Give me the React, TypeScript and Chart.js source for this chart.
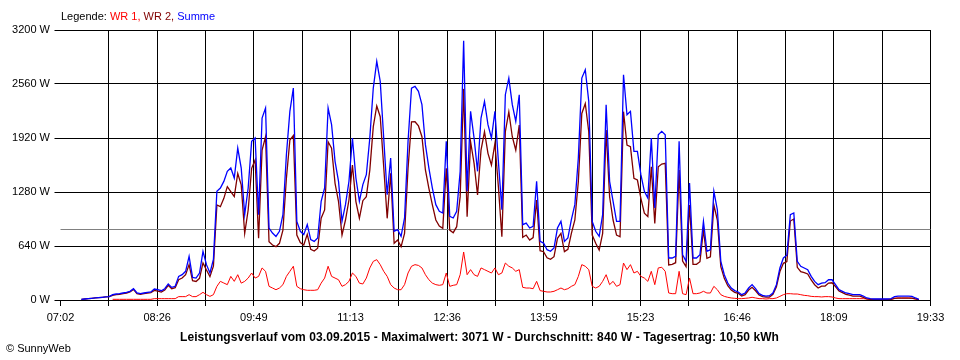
import { useEffect, useRef } from 'react';
import { Chart, registerables } from 'chart.js';

Chart.register(...registerables);

// Axis ticks
const xTickLabels = ['07:02', '08:26', '09:49', '11:13', '12:36', '13:59', '15:23', '16:46', '18:09', '19:33'];
const yTickValues = [0, 640, 1280, 1920, 2560, 3200];
const yTickLabels = ['0 W', '640 W', '1280 W', '1920 W', '2560 W', '3200 W'];
const xMinMinute = 7 * 60 + 2; // 07:02
const xMaxMinute = 19 * 60 + 33; // 19:33

// Samples start at 07:20, every 3 minutes
const startMinute = 7 * 60 + 20;
const intervalMinutes = 3;

const durchschnitt = 840; // W

// WR 1 (W)
const wr1: (number | null)[] = [
  null, null, null, null, null, null, null, null, null, 8,
  8, 8, 8, 8, 8, 8, 8, 8, 8, 8,
  8, 16, 16, 16, 16, 16, 16, 16, 40, 40,
  40, 63, 40, 40, 63, 91, 63, 43, 63, 162,
  221, 201, 182, 280, 221, 300, 200, 221, 260, 320,
  260, 280, 380, 340, 162, 142, 122, 142, 182, 280,
  340, 400, 162, 134, 122, 115, 115, 115, 122, 200,
  260, 400, 280, 260, 240, 162, 182, 221, 320, 280,
  200, 190, 260, 380, 458, 478, 419, 340, 280, 182,
  142, 122, 122, 182, 320, 400, 419, 410, 380, 300,
  240, 200, 182, 174, 182, 320, 162, 174, 182, 300,
  569, 300, 360, 300, 280, 380, 360, 340, 320, 380,
  300, 320, 438, 400, 380, 340, 360, 150, 142, 142,
  134, 221, 111, 103, 95, 95, 103, 122, 142, 122,
  134, 162, 182, 280, 419, 400, 360, 162, 142, 162,
  221, 300, 182, 221, 162, 182, 438, 360, 419, 320,
  340, 280, 260, 221, 340, 182, 380, 388, 340, 83,
  75, 75, 340, 75, 63, 260, 75, 75, 83, 103,
  83, 83, 162, 122, 63, 43, 32, 24, 20, 16,
  16, 20, 24, 32, 24, 16, 16, 12, 16, 16,
  24, 43, 63, 75, 75, 71, 71, 63, 55, 51,
  43, 40, 40, 36, 40, 40, 36, 24, 16, 16,
  16, 16, 16, 16, 16, 16, 12, 8, 4, 4,
  4, 4, 4, 8, 20, 24, 24, 24, 24, 20,
  12, 4,
];

// WR 2 (W)
const wr2: number[] = [
  8, 12, 16, 20, 24, 28, 32, 36, 40, 55,
  63, 67, 75, 83, 95, 126, 75, 67, 75, 83,
  87, 114, 106, 94, 118, 174, 134, 146, 240, 260,
  300, 420, 228, 220, 257, 440, 356, 277, 400, 1126,
  1106, 1205, 1343, 1284, 1225, 1500, 1364, 790, 1067, 1560,
  1660, 731, 1777, 1935, 691, 652, 632, 672, 829, 1442,
  1896, 1950, 770, 680, 652, 778, 600, 580, 613, 969,
  1067, 1875, 1798, 1383, 1166, 770, 948, 1185, 1600, 1166,
  969, 1177, 1225, 1540, 2054, 2300, 2172, 1580, 968, 1501,
  672, 711, 632, 790, 1560, 2112, 2113, 2063, 1935, 1541,
  1324, 1127, 948, 877, 849, 1560, 829, 798, 869, 1225,
  2502, 988, 1876, 1620, 1245, 1777, 1994, 1738, 1600, 1856,
  1343, 750, 1995, 2230, 1935, 1777, 2073, 743, 770, 711,
  739, 1185, 584, 572, 501, 482, 513, 731, 790, 573,
  601, 790, 948, 1403, 2211, 2329, 1994, 770, 672, 592,
  790, 2015, 1224, 948, 770, 750, 2232, 1836, 1817, 1442,
  1422, 1205, 1028, 988, 1580, 908, 1579, 1611, 1619, 415,
  423, 442, 1540, 462, 395, 1126, 423, 423, 454, 829,
  494, 513, 1126, 948, 395, 257, 169, 118, 91, 79,
  47, 63, 118, 150, 110, 59, 39, 35, 35, 67,
  158, 337, 435, 455, 936, 960, 387, 336, 324, 309,
  237, 181, 142, 165, 165, 200, 204, 158, 106, 87,
  67, 59, 47, 47, 47, 31, 12, 8, 8, 8,
  8, 8, 8, 8, 20, 23, 23, 23, 23, 23,
  12, 4,
];

// Summe (W)
const summe: number[] = [
  8, 12, 16, 20, 24, 28, 32, 36, 40, 63,
  71, 75, 83, 91, 103, 134, 83, 75, 83, 91,
  95, 130, 122, 110, 134, 190, 150, 162, 280, 300,
  340, 517, 268, 260, 320, 577, 419, 320, 480, 1288,
  1327, 1406, 1525, 1564, 1446, 1800, 1564, 1011, 1327, 1880,
  1920, 1011, 2157, 2275, 853, 794, 754, 814, 1011, 1722,
  2236, 2512, 932, 814, 774, 893, 715, 695, 735, 1169,
  1327, 2275, 2078, 1643, 1406, 932, 1130, 1406, 1920, 1446,
  1169, 1367, 1485, 1920, 2512, 2828, 2591, 1920, 1248, 1683,
  814, 833, 754, 972, 1880, 2512, 2532, 2473, 2315, 1841,
  1564, 1327, 1130, 1051, 1031, 1880, 991, 972, 1051, 1525,
  3071, 1288, 2236, 1920, 1525, 2157, 2354, 2078, 1920, 2236,
  1643, 1070, 2433, 2630, 2315, 2117, 2433, 893, 912, 853,
  873, 1406, 695, 675, 596, 577, 616, 853, 932, 695,
  735, 952, 1130, 1683, 2630, 2729, 2354, 932, 814, 754,
  1011, 2315, 1406, 1169, 932, 932, 2670, 2196, 2236, 1762,
  1762, 1485, 1288, 1209, 1920, 1090, 1959, 1999, 1959, 498,
  498, 517, 1880, 537, 458, 1386, 498, 498, 537, 932,
  577, 596, 1288, 1070, 458, 300, 201, 142, 111, 95,
  63, 83, 142, 182, 134, 75, 55, 47, 51, 83,
  182, 380, 498, 530, 1011, 1031, 458, 399, 379, 360,
  280, 221, 182, 201, 205, 240, 240, 182, 122, 103,
  83, 75, 63, 63, 63, 47, 24, 16, 12, 12,
  12, 12, 12, 16, 40, 47, 47, 47, 47, 43,
  24, 8,
];

const legendLabel = 'Legende:';
const seriesNames = ['WR 1', 'WR 2', 'Summe'];
const seriesColors = ['#ff0000', '#800000', '#0000ff'];
const averageColor = '#808080';
const caption =
  'Leistungsverlauf vom 03.09.2015 - Maximalwert: 3071 W - Durchschnitt: 840 W - Tagesertrag: 10,50 kWh';
const copyright = '\u00a9 SunnyWeb';

const FONT = "'Liberation Sans', Arial, Helvetica, sans-serif";

function toPoints(arr: (number | null)[]) {
  return arr.map((v, i) => ({ x: startMinute + i * intervalMinutes, y: v }));
}

// Crisp horizontal average line, drawn below the data through the y scale
const averageLinePlugin = {
  id: 'averageLine',
  beforeDatasetsDraw(chart: any) {
    const { ctx, chartArea, scales } = chart;
    const y = Math.floor(scales.y.getPixelForValue(durchschnitt)) + 0.5;
    ctx.save();
    ctx.strokeStyle = averageColor;
    ctx.lineWidth = 1;
    ctx.beginPath();
    ctx.moveTo(chartArea.left, y);
    ctx.lineTo(chartArea.right, y);
    ctx.stroke();
    ctx.restore();
  },
};

export default function App() {
  const canvasRef = useRef<HTMLCanvasElement | null>(null);
  const captionRef = useRef<HTMLSpanElement | null>(null);

  useEffect(() => {
    const cap = captionRef.current;
    if (cap) {
      cap.style.letterSpacing = '0px';
      const w = cap.getBoundingClientRect().width;
      if (w > 0) {
        cap.style.letterSpacing = (599 - w) / caption.length + 'px';
      }
    }
    const canvas = canvasRef.current;
    if (!canvas) return;
    const font = { family: FONT, size: 11 };
    const chart = new Chart(canvas, {
      type: 'line',
      data: {
        datasets: [
          {
            label: seriesNames[2],
            data: toPoints(summe),
            borderColor: seriesColors[2],
            borderWidth: 1.3,
            pointRadius: 0,
            fill: false,
            order: 1,
          },
          {
            label: seriesNames[1],
            data: toPoints(wr2),
            borderColor: seriesColors[1],
            borderWidth: 1.3,
            pointRadius: 0,
            fill: false,
            order: 2,
          },
          {
            label: seriesNames[0],
            data: toPoints(wr1),
            borderColor: seriesColors[0],
            borderWidth: 1,
            pointRadius: 0,
            fill: false,
            spanGaps: false,
            order: 3,
          },
        ],
      },
      plugins: [averageLinePlugin],
      options: {
        animation: false,
        responsive: false,
        maintainAspectRatio: false,
        events: [],
        elements: { line: { tension: 0, borderJoinStyle: 'miter' } },
        layout: { padding: { left: 0, top: 30, right: 29.5, bottom: 0 } },
        plugins: { legend: { display: false }, tooltip: { enabled: false }, title: { display: false } },
        scales: {
          x: {
            type: 'linear',
            min: xMinMinute,
            max: xMaxMinute,
            border: { display: false },
            afterBuildTicks: (s: any) => {
              const n = (xTickLabels.length - 1) * 2;
              const ticks = [];
              for (let k = 0; k <= n; k++) {
                ticks.push({ value: xMinMinute + (k * (xMaxMinute - xMinMinute)) / n });
              }
              s.ticks = ticks;
            },
            afterFit: (s: any) => {
              s.height = 60;
            },
            grid: {
              color: (c: any) => (c.index === 0 ? 'rgba(0,0,0,0)' : '#000000'),
              tickColor: '#000000',
              tickLength: 6,
              lineWidth: 1,
            },
            ticks: {
              autoSkip: false,
              maxRotation: 0,
              minRotation: 0,
              padding: 5,
              color: '#000000',
              font,
              callback: (_v: any, idx: number) => (idx % 2 === 0 ? xTickLabels[idx / 2] : ''),
            },
          },
          y: {
            min: 0,
            max: 3200,
            border: { display: false },
            afterBuildTicks: (s: any) => {
              s.ticks = yTickValues.map((v) => ({ value: v }));
            },
            afterFit: (s: any) => {
              s.width = 60.5;
            },
            grid: { color: '#000000', tickColor: '#000000', tickLength: 6, lineWidth: 1 },
            ticks: {
              padding: 4.5,
              color: '#000000',
              font,
              callback: (_v: any, idx: number) => yTickLabels[idx],
            },
          },
        },
      },
    } as any);
    return () => chart.destroy();
  }, []);

  return (
    <div
      style={{
        position: 'fixed',
        left: 0,
        top: 0,
        width: 960,
        height: 360,
        background: '#ffffff',
        fontFamily: FONT,
        color: '#000',
      }}
    >
      <canvas ref={canvasRef} width={960} height={360} style={{ display: 'block', position: 'absolute', left: 0, top: 0 }} />
      <div
        style={{
          position: 'absolute',
          left: 61,
          top: 11,
          fontSize: 11,
          lineHeight: '11px',
          whiteSpace: 'nowrap',
        }}
      >
        <span>{legendLabel} </span>
        <span style={{ color: seriesColors[0] }}>{seriesNames[0]}, </span>
        <span style={{ color: seriesColors[1] }}>{seriesNames[1]}, </span>
        <span style={{ color: seriesColors[2] }}>{seriesNames[2]}</span>
      </div>
      <div
        style={{
          position: 'absolute',
          left: 0,
          width: 959,
          top: 331,
          textAlign: 'center',
          fontSize: 12,
          fontWeight: 'bold',
          lineHeight: '12px',
          whiteSpace: 'nowrap',
        }}
      >
        <span ref={captionRef}>{caption}</span>
      </div>
      <div
        style={{
          position: 'absolute',
          left: 6,
          top: 343,
          fontSize: 11,
          lineHeight: '11px',
          whiteSpace: 'nowrap',
        }}
      >
        {copyright}
      </div>
    </div>
  );
}
